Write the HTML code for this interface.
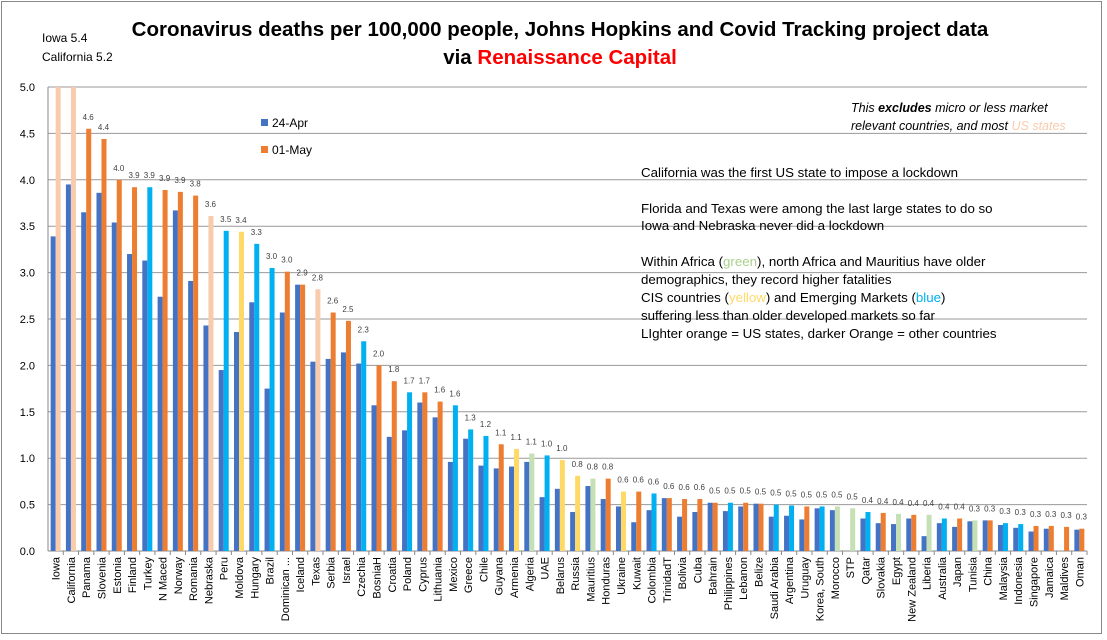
<!DOCTYPE html>
<html><head><meta charset="utf-8"><style>
html,body{margin:0;padding:0;background:#fff;}
svg{display:block;font-family:"Liberation Sans",sans-serif;}
</style></head><body>
<svg id="chart" width="1107" height="640" viewBox="0 0 1107 640" xmlns="http://www.w3.org/2000/svg">
<rect x="1.5" y="1.5" width="1100" height="632" fill="#fff" stroke="#888" stroke-width="1"/>
<text x="560" y="36" text-anchor="middle" font-size="20.5" font-weight="bold" fill="#000">Coronavirus deaths per 100,000 people, Johns Hopkins and Covid Tracking project data</text>
<text x="560" y="64" text-anchor="middle" font-size="20.5" font-weight="bold" fill="#000">via <tspan fill="#FF0000">Renaissance Capital</tspan></text>
<text x="42" y="42" font-size="12" fill="#000">Iowa 5.4</text>
<text x="42" y="61" font-size="12" fill="#000">California  5.2</text>
<g id="grid"></g>
<g id="bars"></g>
<g id="labels"></g>
<g id="xaxis"></g>
<g>
<rect x="261" y="119" width="7" height="7" fill="#4472C4"/>
<text x="272" y="127" font-size="12">24-Apr</text>
<rect x="261" y="146" width="7" height="7" fill="#ED7D31"/>
<text x="272" y="154" font-size="12">01-May</text>
</g>
<g font-size="12.5" font-style="italic">
<text x="851" y="112">This <tspan font-weight="bold">excludes</tspan> micro or less market</text>
<text x="851" y="130">relevant countries, and most <tspan fill="#F8CBAD">US states</tspan></text>
</g>
<g font-size="13.3" fill="#000">
<text x="641" y="177">California was the first US state to impose a lockdown</text>
<text x="641" y="213">Florida and Texas were among the last large  states to do so</text>
<text x="641" y="230">Iowa and Nebraska never did a lockdown</text>
<text x="641" y="266">Within Africa (<tspan fill="#A9D18E">green</tspan>), north Africa  and Mauritius have older</text>
<text x="641" y="284">demographics,  they record higher fatalities</text>
<text x="641" y="302">CIS countries (<tspan fill="#FFD966">yellow</tspan>) and Emerging Markets (<tspan fill="#00B0F0">blue</tspan>)</text>
<text x="641" y="320">suffering less than older developed markets so far</text>
<text x="641" y="338">LIghter orange = US states, darker Orange = other countries</text>
</g>
</svg>
<script>
const categories=["Iowa","California","Panama","Slovenia","Estonia","Finland","Turkey","N Maced","Norway","Romania","Nebraska","Peru","Moldova","Hungary","Brazil","Dominican ...","Iceland","Texas","Serbia","Israel","Czechia","BosniaH","Croatia","Poland","Cyprus","Lithuania","Mexico","Greece","Chile","Guyana","Armenia","Algeria","UAE","Belarus","Russia","Mauritius","Honduras","Ukraine","Kuwait","Colombia","TrinidadT","Bolivia","Cuba","Bahrain","Philippines","Lebanon","Belize","Saudi Arabia","Argentina","Uruguay","Korea, South","Morocco","STP","Qatar","Slovakia","Egypt","New Zealand","Liberia","Australia","Japan","Tunisia","China","Malaysia","Indonesia","Singapore","Jamaica","Maldives","Oman"];
const apr24=[3.39,3.95,3.65,3.86,3.54,3.2,3.13,2.74,3.67,2.91,2.43,1.95,2.36,2.68,1.75,2.57,2.87,2.04,2.07,2.14,2.02,1.57,1.23,1.30,1.60,1.44,0.96,1.21,0.92,0.89,0.91,0.96,0.58,0.67,0.42,0.70,0.56,0.48,0.31,0.44,0.57,0.37,0.42,0.52,0.43,0.48,0.51,0.37,0.38,0.34,0.46,0.44,0,0.35,0.30,0.29,0.35,0.16,0.30,0.26,0.32,0.33,0.28,0.25,0.21,0.24,0,0.23];
const may01=[5.4,5.2,4.55,4.44,4.0,3.92,3.92,3.89,3.87,3.83,3.61,3.45,3.44,3.31,3.05,3.01,2.87,2.82,2.57,2.48,2.26,2.0,1.83,1.71,1.71,1.61,1.57,1.31,1.24,1.15,1.10,1.05,1.03,0.98,0.81,0.78,0.78,0.64,0.64,0.62,0.57,0.56,0.56,0.52,0.52,0.52,0.51,0.50,0.49,0.48,0.48,0.48,0.46,0.42,0.41,0.40,0.39,0.39,0.35,0.35,0.33,0.33,0.30,0.29,0.27,0.27,0.26,0.24];
const mayLabels=["","","4.6","4.4","4.0","3.9","3.9","3.9","3.9","3.8","3.6","3.5","3.4","3.3","3.0","3.0","2.9","2.8","2.6","2.5","2.3","2.0","1.8","1.7","1.7","1.6","1.6","1.3","1.2","1.1","1.1","1.1","1.0","1.0","0.8","0.8","0.8","0.6","0.6","0.6","0.6","0.6","0.6","0.5","0.5","0.5","0.5","0.5","0.5","0.5","0.5","0.5","0.5","0.4","0.4","0.4","0.4","0.4","0.4","0.4","0.3","0.3","0.3","0.3","0.3","0.3","0.3","0.3"];
const groups=["us","us","o","o","o","o","em","o","o","o","us","em","cis","em","em","o","o","us","o","o","em","o","o","em","o","o","em","em","em","o","cis","af","em","cis","cis","af","o","cis","o","em","o","o","o","o","em","o","o","em","em","o","em","af","af","em","o","af","o","af","em","o","af","o","em","em","o","o","o","o"];
const yTicks=[0,0.5,1,1.5,2,2.5,3,3.5,4,4.5,5];
const colorMap={us:"#F8CBAD",o:"#ED7D31",em:"#00B0F0",cis:"#FFD966",af:"#C5E0B4"};
const NS="http://www.w3.org/2000/svg";
const X0=48,X1=1087,Y0=551,Y1=87,YMAX=5;
const step=(X1-X0)/categories.length;
const y=v=>Y0-(Math.min(v,YMAX)/YMAX)*(Y0-Y1);
const xc=i=>X0+step*(i+0.5);
function mk(tag,attrs,parent){const e=document.createElementNS(NS,tag);for(const k in attrs)e.setAttribute(k,attrs[k]);parent.appendChild(e);return e;}
const grid=document.getElementById('grid');
yTicks.forEach(t=>{
  const l=mk('line',{x1:X0,x2:X1,y1:y(t),y2:y(t),stroke:t===0?'#888':'#999','stroke-width':1},grid);
  
  
  const tx=mk('text',{x:35,y:y(t)+4,'text-anchor':'end','font-size':11},grid);
  tx.textContent=t.toFixed(1);
  
  
});
const ax=mk('line',{x1:X0,x2:X0,y1:Y1,y2:Y0,stroke:'#888'},grid);


const bars=document.getElementById('bars'),labels=document.getElementById('labels'),xaxis=document.getElementById('xaxis');
const bw=5;
categories.forEach((c,i)=>{
  const cx=xc(i);
  if(apr24[i]>0){
    const b=mk('rect',{x:cx-bw,y:y(apr24[i]),width:bw,height:Y0-y(apr24[i]),fill:'#4472C4'},bars);
    
    
  }
  const b2=mk('rect',{x:cx,y:y(may01[i]),width:bw,height:Y0-y(may01[i]),fill:colorMap[groups[i]]},bars);
  
  
  if(may01[i]<YMAX && mayLabels[i]){
    const t=mk('text',{x:cx+2,y:y(may01[i])-9,'text-anchor':'middle','font-size':8,fill:'#404040'},labels);
    t.textContent=mayLabels[i];
    
    
  }
  const tk=mk('line',{x1:X0+step*(i+1),x2:X0+step*(i+1),y1:Y0,y2:Y0+4,stroke:'#888'},xaxis);
  
  
  const lb=mk('text',{x:0,y:0,'text-anchor':'end','font-size':11,transform:`translate(${cx+4},${Y0+6}) rotate(-90)`},xaxis);
  lb.textContent=c;
  
  
});
</script>
</body></html>
